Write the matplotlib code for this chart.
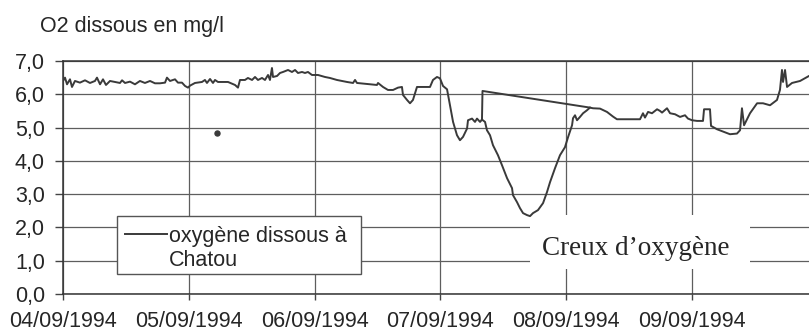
import numpy as np
import matplotlib
matplotlib.use("Agg")
import matplotlib.pyplot as plt
from matplotlib.patches import Rectangle
from matplotlib.lines import Line2D

# Oxygène dissous mesuré à Chatou, début de la série le 04/09/1994 à 0 h
debut = np.datetime64("1994-09-04T00:00")

# Heures écoulées depuis le début et teneur en O2 dissous (mg/l)
heures_mesure = [
    0.00, 0.38, 0.76, 1.34, 1.72, 2.29, 3.24, 4.20, 5.15, 6.10,
    6.49, 7.06, 7.63, 8.20, 8.97, 9.92, 10.87, 11.26, 11.83, 12.78,
    13.74, 14.69, 15.64, 16.60, 17.55, 18.51, 19.46, 19.84, 20.41, 21.37,
    21.94, 22.70, 23.28, 23.85, 24.23,
    25.18, 26.52, 27.09, 27.47, 28.05, 28.62, 29.00, 29.57, 31.48, 32.81,
    33.39, 33.77, 34.72, 35.29, 36.06, 36.63, 37.20, 37.97, 38.54, 39.11,
    39.49, 39.87, 40.06, 40.83, 41.40, 41.97, 42.93, 43.69, 44.26, 44.84,
    45.60, 46.17, 46.74, 47.50, 48.65,
    49.98, 50.94, 52.27, 54.18, 55.33, 55.71, 56.09, 58.57, 59.90, 60.10,
    61.05, 62.00, 62.96, 63.91, 64.67, 64.87, 65.63, 66.20, 66.77, 67.54,
    70.02, 70.59, 71.35, 71.92, 72.50, 73.26, 74.41, 75.17, 75.74, 76.31,
    77.08, 77.27, 78.03, 78.60, 78.98, 79.56, 79.94, 80.03,
    100.54, 101.11, 102.45, 103.78, 104.93, 105.69, 110.08, 110.65, 111.04, 111.61,
    112.37, 113.33, 113.90, 114.28, 115.24, 115.81, 116.76, 117.72, 118.67, 119.24,
    120.01, 120.96, 122.10, 122.30, 123.44, 123.63, 124.77, 125.92, 127.25, 128.59,
    129.16, 129.54, 129.93, 131.07, 132.41, 133.55, 134.88, 136.22, 136.79, 137.17,
    137.36, 137.75, 138.13, 139.08, 140.61, 142.32, 143.47,
]
o2_mesure = [
    6.40, 6.50, 6.30, 6.45, 6.22, 6.40, 6.35, 6.42, 6.34, 6.40,
    6.50, 6.30, 6.45, 6.28, 6.40, 6.37, 6.34, 6.42, 6.34, 6.38,
    6.30, 6.40, 6.34, 6.40, 6.33, 6.33, 6.35, 6.50, 6.40, 6.45,
    6.35, 6.35, 6.25, 6.20, 6.26,
    6.34, 6.37, 6.43, 6.34, 6.46, 6.34, 6.43, 6.37, 6.37, 6.28,
    6.20, 6.43, 6.43, 6.49, 6.43, 6.52, 6.43, 6.49, 6.43, 6.58,
    6.43, 6.79, 6.52, 6.55, 6.64, 6.67, 6.73, 6.67, 6.73, 6.64,
    6.67, 6.64, 6.67, 6.58, 6.58,
    6.52, 6.49, 6.43, 6.37, 6.34, 6.43, 6.34, 6.30, 6.28, 6.34,
    6.22, 6.13, 6.13, 6.20, 6.22, 5.98, 5.83, 5.73, 5.83, 6.22,
    6.22, 6.43, 6.52, 6.48, 6.25, 6.15, 5.17, 4.77, 4.62, 4.72,
    4.97, 5.22, 5.27, 5.17, 5.27, 5.17, 5.24, 6.10,
    5.60, 5.58, 5.57, 5.47, 5.33, 5.25, 5.25, 5.43, 5.30, 5.47,
    5.43, 5.55, 5.50, 5.45, 5.58, 5.43, 5.40, 5.32, 5.37, 5.27,
    5.22, 5.20, 5.20, 5.55, 5.55, 5.05, 4.95, 4.88, 4.80, 4.82,
    4.92, 5.58, 5.07, 5.43, 5.73, 5.73, 5.67, 5.83, 6.13, 6.73,
    6.37, 6.73, 6.22, 6.34, 6.40, 6.55, 6.60,
]

# Creux d'oxygène entre le 07/09 et le 08/09
heures_creux = [
    79.94, 80.51, 80.89, 81.46, 82.04, 82.99, 83.75, 84.71, 85.66, 85.85,
    86.62, 87.19, 87.76, 88.53, 89.10, 89.67, 90.62, 91.58, 92.34, 92.91,
    93.87, 94.82, 95.77, 96.35, 97.11, 97.30, 97.68, 98.07, 98.64, 99.21,
    99.97, 100.54,
]
o2_creux = [
    5.24, 5.17, 4.92, 4.77, 4.47, 4.17, 3.87, 3.48, 3.18, 2.97,
    2.76, 2.58, 2.43, 2.37, 2.34, 2.43, 2.52, 2.73, 3.06, 3.36,
    3.78, 4.17, 4.41, 4.71, 5.07, 5.28, 5.37, 5.22, 5.32, 5.43,
    5.52, 5.60,
]

# Relevé isolé
heure_isolee = [29.4]
o2_isole = [4.83]

jours = ["04/09/1994", "05/09/1994", "06/09/1994",
         "07/09/1994", "08/09/1994", "09/09/1994"]
niveaux_y = [0, 1, 2, 3, 4, 5, 6, 7]

assert len(heures_mesure) == len(o2_mesure)
assert len(heures_creux) == len(o2_creux)


def vers_dates(heures):
    minutes = np.round(np.asarray(heures, dtype=float) * 60).astype(np.int64)
    return debut + minutes.astype("timedelta64[m]")


plt.rcParams["font.family"] = ["Liberation Sans", "DejaVu Sans"]
TEXTE = "#262626"
TRAIT = "#3a3a3a"
GRILLE = "#5e5e5e"
TAILLE = 15.5

fig = plt.figure(figsize=(8.09, 3.31), dpi=100)
ax = fig.add_axes([0.07787, 0.11178, 0.93300, 0.70393])

ax.plot(vers_dates(heures_mesure), o2_mesure, color=TRAIT, lw=1.4,
        solid_joinstyle="round", zorder=3)
ax.plot(vers_dates(heures_creux), o2_creux, color=TRAIT, lw=1.4,
        solid_joinstyle="round", zorder=3)
ax.plot(vers_dates(heure_isolee), o2_isole, ls="none", marker="o",
        ms=3.6, color=TRAIT, zorder=3)

# Axes
pos_jours = vers_dates([24 * i for i in range(len(jours))])
ax.set_xlim(vers_dates([0])[0], vers_dates([144])[0])
ax.set_ylim(0, 7)
ax.set_xticks(pos_jours)
ax.set_xticklabels(jours)
ax.set_yticks(niveaux_y)
ax.set_yticklabels([f"{v:.1f}".replace(".", ",") for v in niveaux_y])

ax.set_axisbelow(True)
ax.grid(True, color=GRILLE, lw=0.9)
for cote in ("left", "bottom", "top"):
    ax.spines[cote].set_color("#333333")
    ax.spines[cote].set_linewidth(1.1)
ax.spines["right"].set_visible(False)

ax.tick_params(axis="y", direction="out", length=6, width=1.0, color="#444444",
               pad=7, labelsize=TAILLE, labelcolor=TEXTE)
ax.tick_params(axis="x", direction="out", length=4, width=1.0, color="#444444",
               pad=8, labelsize=TAILLE, labelcolor=TEXTE)

# Titre de l'axe des ordonnées
fig.text(40 / 809, 1 - 32 / 331, "O2 dissous en mg/l", fontsize=TAILLE,
         color=TEXTE, va="baseline", ha="left")

# Légende
ax.add_patch(Rectangle((0.0715, 0.086), 0.3235, 0.249, transform=ax.transAxes,
                       facecolor="white", edgecolor="#555555", lw=1.0, zorder=5))
ax.add_line(Line2D([0.0821, 0.1378], [0.2575, 0.2575], transform=ax.transAxes,
                   color=TRAIT, lw=1.4, zorder=6))
ax.text(0.1405, 0.2245, "oxygène dissous à", transform=ax.transAxes,
        fontsize=TAILLE, color=TEXTE, va="baseline", ha="left", zorder=6)
ax.text(0.1405, 0.1202, "Chatou", transform=ax.transAxes,
        fontsize=TAILLE, color=TEXTE, va="baseline", ha="left", zorder=6)

# Annotation du creux
ax.add_patch(Rectangle((0.619, 0.107), 0.291, 0.232, transform=ax.transAxes,
                       facecolor="white", edgecolor="none", zorder=2))
ax.text(vers_dates([109.2])[0], 1.17, "Creux d\u2019oxygène",
        family=["Liberation Serif", "DejaVu Serif"], fontsize=19.5, color=TEXTE,
        ha="center", va="baseline", zorder=4)

fig.savefig("out.png", dpi=100, facecolor="white")
